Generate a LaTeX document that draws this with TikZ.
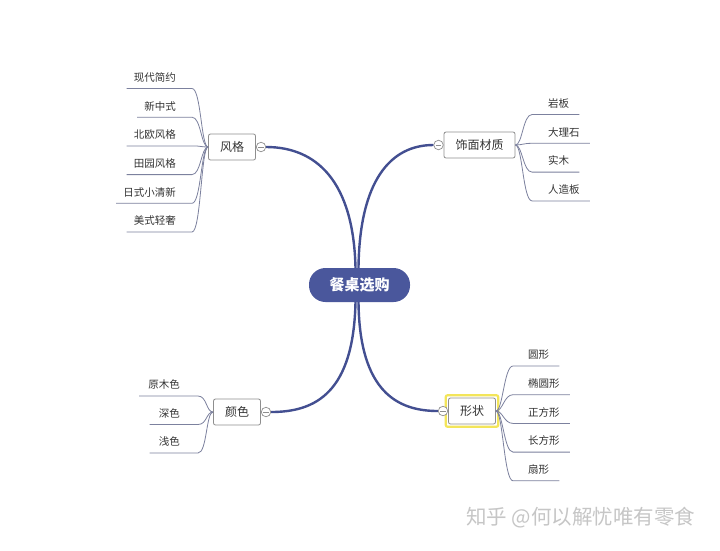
\documentclass[tikz,border=0pt]{standalone}
\usepackage{fontspec}
\newfontfamily\cjk{Noto Sans CJK SC}
\usetikzlibrary{positioning}
\definecolor{mainblue}{HTML}{434F91}
\definecolor{rootfill}{HTML}{4A579C}
\definecolor{leafc}{HTML}{7C819E}
\definecolor{boxc}{HTML}{8E8E8E}
\definecolor{txt}{HTML}{333333}
\definecolor{hlyellow}{HTML}{F3E55A}
\definecolor{wmc}{HTML}{C6C6C6}
\newcommand\padtext[3]{\hspace*{#1pt}#3\hspace*{#2pt}}
\begin{document}
\begin{tikzpicture}[x=1pt,y=-1pt,
  root/.style={rounded corners=16.5pt, fill=rootfill, minimum width=101pt, minimum height=34pt, text=white, font=\cjk\bfseries\fontsize{15}{17}\selectfont, inner sep=0pt},
  topic/.style={draw=boxc, line width=0.8pt, rounded corners=2pt, fill=white, minimum height=26pt, inner xsep=11.5pt, inner ysep=0pt, text=txt, font=\cjk\fontsize{12}{14}\selectfont},
  coll/.style={circle, draw=boxc, line width=0.7pt, fill=white, minimum size=9.5pt, inner sep=0pt,
    path picture={\draw[boxc, line width=0.6pt] ([xshift=2.2pt]path picture bounding box.west) -- ([xshift=-2.2pt]path picture bounding box.east);}},
  leaf/.style={inner sep=0pt, minimum height=22pt, text=txt, font=\cjk\fontsize{10.5}{12}\selectfont},
  mainline/.style={draw=mainblue, line width=2.4pt},
  leafline/.style={draw=leafc, line width=0.8pt},
  hlbox/.style={draw=hlyellow, line width=2.2pt, rounded corners=2pt},
  wmark/.style={text=wmc, inner sep=0pt, font=\cjk\fontsize{20.5}{23}\selectfont}
]
\fill[white] (0,0) rectangle (720,550);
\useasboundingbox (0,0) rectangle (720,550);

% root
\node[root] (root) at (359.5,285) {餐桌选购};

% topics
\node[topic] (fg) at (232,147) {风格};
\node[topic] (sm) at (479.5,145) {饰面材质};
\node[topic] (ys) at (237,412) {颜色};
\node[topic] (xz) at (472,411) {形状};
\draw[hlbox] ([shift={(-2.4,-2.4)}]xz.north west) rectangle ([shift={(2.4,2.4)}]xz.south east);

% collapse circles
\node[coll, right=0pt of fg] (c1) {};
\node[coll, left=0pt of sm] (c2) {};
\node[coll, right=0pt of ys] (c3) {};
\node[coll, left=0pt of xz] (c4) {};

% main connectors
\draw[mainline] ([xshift=-4pt]root.north) .. controls +(-2,-87) and +(50,0) .. (c1.east);
\draw[mainline] ([xshift=-1pt]root.north) .. controls +(1,-87) and +(-43,0) .. (c2.west);
\draw[mainline] ([xshift=-4pt]root.south) .. controls +(-2,90) and +(45,0) .. (c3.east);
\draw[mainline] ([xshift=-1pt]root.south) .. controls +(1,90) and +(-40,0) .. (c4.west);

% leaves of 风格
\foreach \t [count=\i from 0] in {现代简约,新中式,北欧风格,田园风格,日式小清新,美式轻奢} {
  \node[leaf, anchor=south east] (fg\i) at (192,{88.5+28.7*\i}) {\padtext{7}{16}{\t}};
  \draw[leafline] (fg\i.south west) -- (fg\i.south east) .. controls +(9,0) and +(-7,0) .. (fg.west);
}
% leaves of 饰面材质
\foreach \t [count=\i from 0] in {岩板,大理石,实木,人造板} {
  \node[leaf, anchor=south west] (sm\i) at (532,{114.5+28.8*\i}) {\padtext{16}{10}{\t}};
  \draw[leafline] (sm.east) .. controls +(7,0) and +(-9,0) .. (sm\i.south west) -- (sm\i.south east);
}
% leaves of 颜色
\foreach \t [count=\i from 0] in {原木色,深色,浅色} {
  \node[leaf, anchor=south east] (ys\i) at (198,{396+28.5*\i}) {\padtext{9}{18}{\t}};
  \draw[leafline] (ys\i.south west) -- (ys\i.south east) .. controls +(9,0) and +(-7,0) .. (ys.west);
}
% leaves of 形状
\foreach \t [count=\i from 0] in {圆形,椭圆形,正方形,长方形,扇形} {
  \node[leaf, anchor=south west] (xz\i) at (513,{366+28.7*\i}) {\padtext{15}{10}{\t}};
  \draw[leafline] (xz.east) .. controls +(7,0) and +(-9,0) .. (xz\i.south west) -- (xz\i.south east);
}

% watermark
\node[wmark, anchor=west] (wm) at (466,518) {知乎 @何以解忧唯有零食};
\end{tikzpicture}
\end{document}
